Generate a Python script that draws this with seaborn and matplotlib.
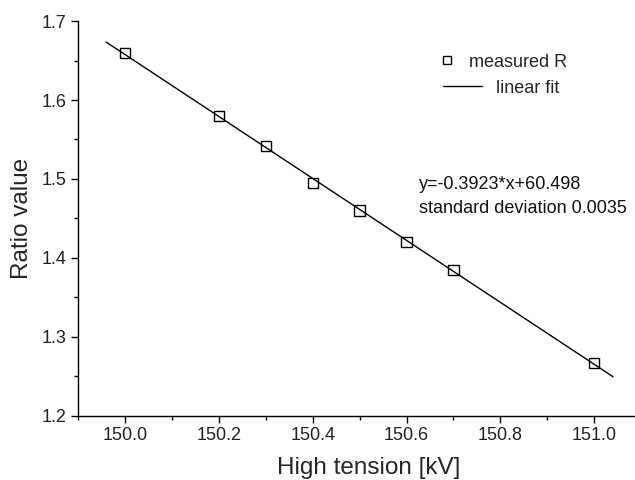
import matplotlib
matplotlib.use('Agg')
import matplotlib.pyplot as plt
from matplotlib.lines import Line2D
from matplotlib.ticker import MultipleLocator, FormatStrFormatter
import seaborn as sns
import numpy as np
import pandas as pd

# measured ratio values against high tension
tension = [150.0, 150.2, 150.3, 150.4, 150.5, 150.6, 150.7, 151.0]
ratio = [1.660, 1.580, 1.542, 1.495, 1.460, 1.420, 1.385, 1.267]

# range over which the fitted line is drawn
fit_range = [149.96, 151.04]
fit_text = ['y=-0.3923*x+60.498', 'standard deviation 0.0035']

sns.set_style('ticks')
plt.rcParams['font.family'] = ['Liberation Sans', 'DejaVu Sans']

slope, intercept = np.polyfit(tension, ratio, 1)
fit = pd.DataFrame({'x': fit_range,
                    'y': [slope * v + intercept for v in fit_range]})
meas = pd.DataFrame({'x': tension, 'y': ratio})

fig = plt.figure(figsize=(6.35, 4.8), dpi=100)
ax = fig.add_axes([0.1228, 0.134, 0.887, 0.822])

sns.lineplot(data=fit, x='x', y='y', ax=ax, color='black', linewidth=1.0)
sns.scatterplot(data=meas, x='x', y='y', ax=ax, marker='s', s=55,
                facecolor='none', edgecolor='black', linewidth=1.0, zorder=3)

ax.set_xlim(149.9, 151.1)
ax.set_ylim(1.2, 1.7)
ax.xaxis.set_major_locator(MultipleLocator(0.2))
ax.xaxis.set_minor_locator(MultipleLocator(0.1))
ax.yaxis.set_major_locator(MultipleLocator(0.1))
ax.yaxis.set_minor_locator(MultipleLocator(0.05))
ax.xaxis.set_major_formatter(FormatStrFormatter('%.1f'))
ax.yaxis.set_major_formatter(FormatStrFormatter('%.1f'))
ax.tick_params(which='major', direction='out', length=5, width=1, labelsize=13,
               color='black', labelcolor='#222222')
ax.tick_params(which='minor', direction='out', length=3, width=1, color='black')

for side in ['top', 'right']:
    ax.spines[side].set_visible(False)
for side in ['left', 'bottom']:
    ax.spines[side].set_linewidth(1.0)
    ax.spines[side].set_color('black')

ax.set_xlabel('High tension [kV]', fontsize=17.5)
ax.xaxis.set_label_coords(0.517, -0.105)
ax.set_ylabel('Ratio value', fontsize=17.5, labelpad=6)

h1 = Line2D([], [], marker='s', linestyle='none', markersize=6,
            markerfacecolor='none', markeredgecolor='black', markeredgewidth=1.0)
h2 = Line2D([], [], color='black', linewidth=1.0)
leg1 = ax.legend([h1], ['measured R'], loc='center left', frameon=False,
                 bbox_to_anchor=(0.639, 0.896), fontsize=13, handlelength=1.0,
                 handletextpad=0.75, borderpad=0, borderaxespad=0)
ax.add_artist(leg1)
ax.legend([h2], ['linear fit'], loc='center left', frameon=False,
          bbox_to_anchor=(0.648, 0.830), fontsize=13, handlelength=2.17,
          handletextpad=0.78, borderpad=0, borderaxespad=0)

ax.text(0.606, 0.555, fit_text[0] + '\n' + fit_text[1], transform=ax.transAxes,
        fontsize=13, va='center', ha='left', linespacing=1.5, color='#111111')

fig.savefig('out.png', dpi=100)
